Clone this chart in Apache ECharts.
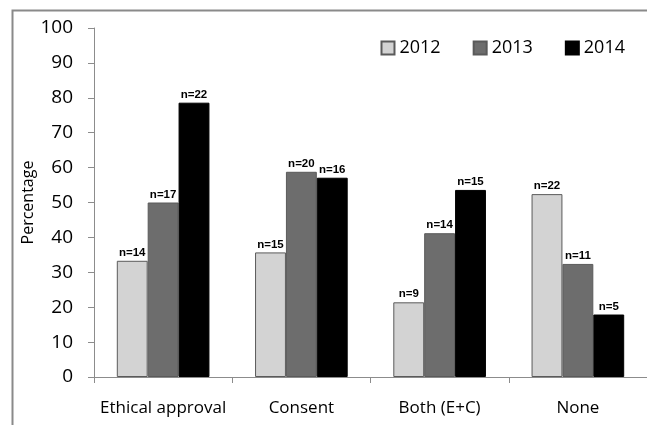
<!DOCTYPE html>
<html><head><meta charset="utf-8">
<script src="https://cdn.jsdelivr.net/npm/echarts@6/dist/echarts.min.js"></script>
<style>html,body{margin:0;padding:0;background:#fff}#c{width:647px;height:425px}</style>
</head><body><div id="c"></div>
<script>
const categories = ['Ethical approval', 'Consent', 'Both (E+C)', 'None'];
const years = ['2012', '2013', '2014'];
const values2012 = [33.3, 35.7, 21.4, 52.4];
const values2013 = [50.0, 58.8, 41.2, 32.4];
const values2014 = [78.6, 57.1, 53.6, 17.9];
const counts2012 = ['n=14', 'n=15', 'n=9', 'n=22'];
const counts2013 = ['n=17', 'n=20', 'n=14', 'n=11'];
const counts2014 = ['n=22', 'n=16', 'n=15', 'n=5'];
const yTicks = [0, 10, 20, 30, 40, 50, 60, 70, 80, 90, 100];

const colors = ['#d3d3d3', '#6d6d6d', '#000000'];
const borders = ['#5a5a5a', '#5a5a5a', '#000000'];
const allValues = [values2012, values2013, values2014];
const allCounts = [counts2012, counts2013, counts2014];

const chart = echarts.init(document.getElementById('c'), null, {renderer: 'canvas'});
chart.setOption({
  animation: false,
  backgroundColor: '#fff',
  graphic: [{
    type: 'rect', shape: {x: 12.5, y: 10.5, width: 700, height: 500},
    style: {fill: 'none', stroke: '#8a8a8a', lineWidth: 2}, z: -1
  }],
  legend: {
    right: 17, top: 34, itemGap: 32, itemWidth: 13, itemHeight: 13,
    icon: 'rect',
    textStyle: {fontFamily: 'Open Sans', fontSize: 18, color: '#000', padding: [0, 0, 0, 0]},
    data: years
  },
  grid: {left: 94, right: 0, top: 28, bottom: 48, containLabel: false},
  xAxis: {
    type: 'category', data: categories,
    axisLine: {lineStyle: {color: '#8c8c8c', width: 1}},
    axisTick: {show: true, length: 6, lineStyle: {color: '#8c8c8c'}},
    axisLabel: {interval: 0, fontFamily: 'Open Sans', fontSize: 17, color: '#000', margin: 23}
  },
  yAxis: {
    type: 'value', min: yTicks[0], max: yTicks[yTicks.length - 1], interval: 10,
    name: 'Percentage', nameLocation: 'middle', nameGap: 58, nameMoveOverlap: false,
    nameTextStyle: {fontFamily: 'Open Sans', fontSize: 16, color: '#000'},
    axisLine: {show: true, lineStyle: {color: '#8c8c8c', width: 1}},
    axisTick: {show: true, length: 6, lineStyle: {color: '#8c8c8c'}},
    splitLine: {show: false},
    axisLabel: {fontFamily: 'Open Sans', fontSize: 19, color: '#000', margin: 21}
  },
  series: years.map((y, i) => ({
    name: y, type: 'bar',
    barGap: '0%', barCategoryGap: '33%',
    data: allValues[i],
    itemStyle: {color: colors[i], borderColor: borders[i], borderWidth: 1},
    label: {
      show: true, position: 'top', distance: 2,
      formatter: p => allCounts[i][p.dataIndex],
      fontFamily: 'Liberation Sans', fontWeight: 'bold', fontSize: 11.5, color: '#000'
    }
  }))
});
</script></body></html>
